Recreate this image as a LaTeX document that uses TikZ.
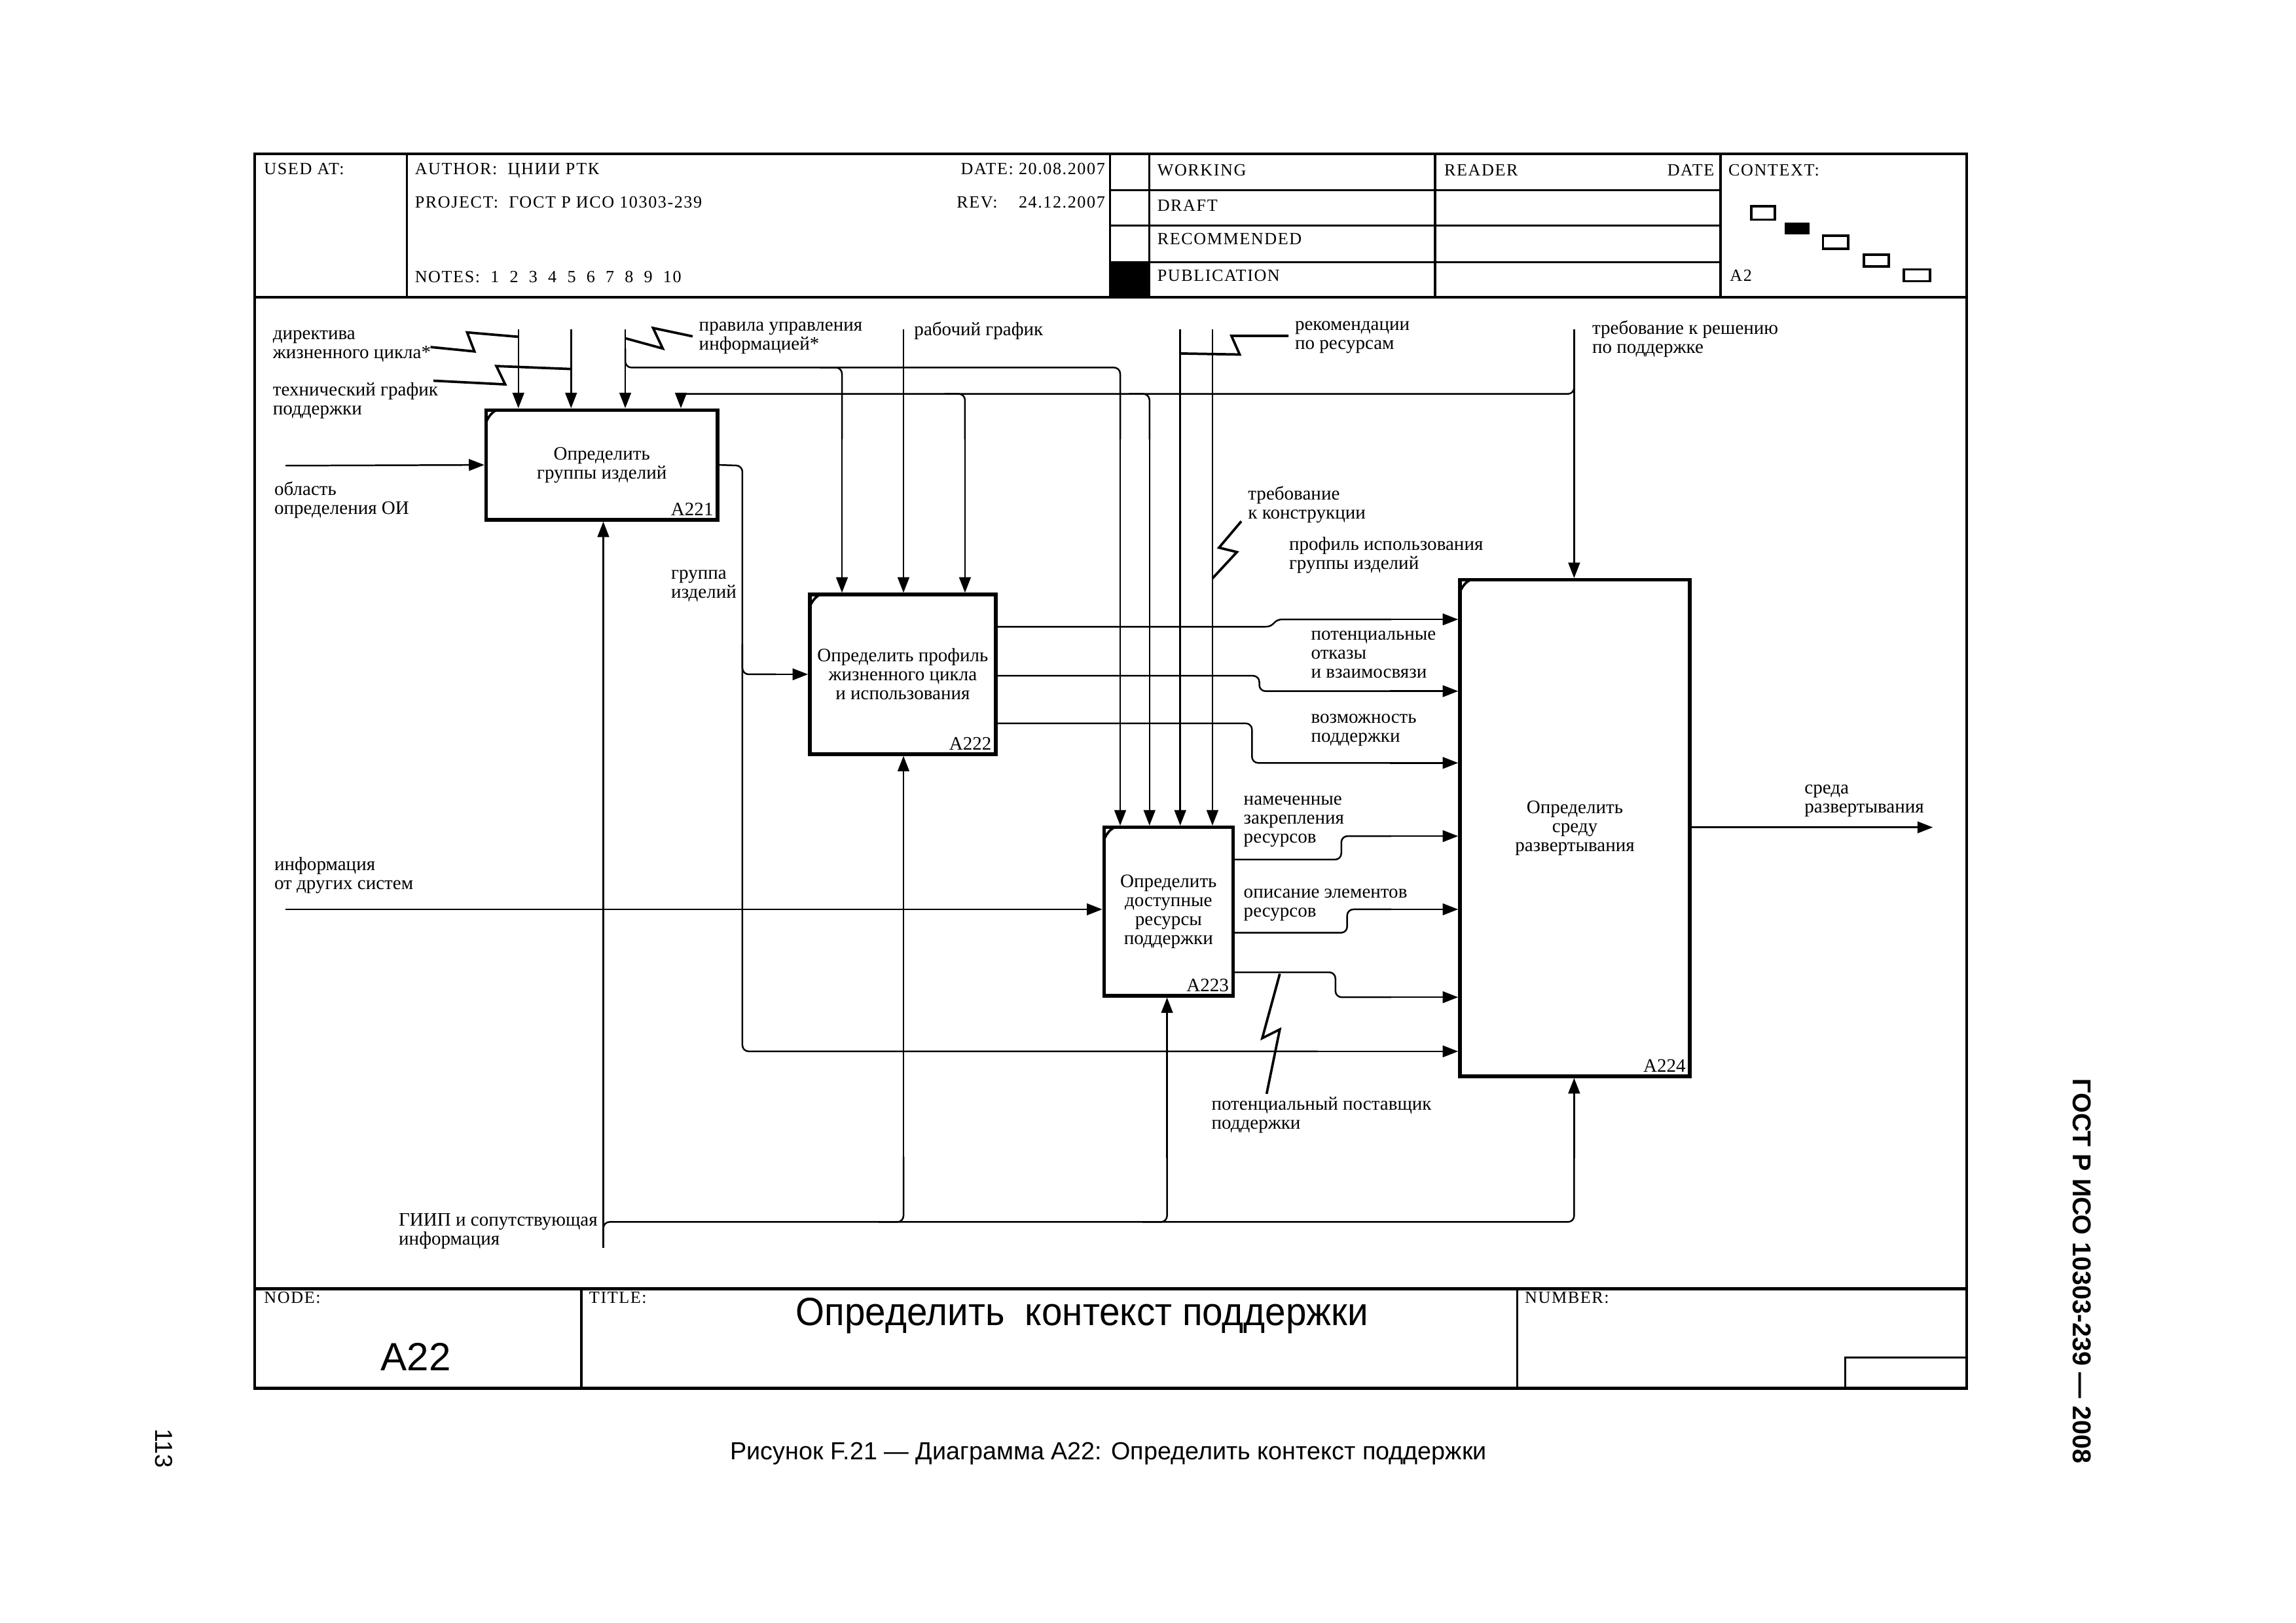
\documentclass[tikz,border=0pt]{standalone}
\usepackage{fontspec}
\setmainfont{Liberation Serif}
\newfontfamily\hdrf{Liberation Serif}[LetterSpace=6]
\newfontfamily\sansf{Liberation Sans}
\newfontfamily\titlef{Liberation Sans}[FakeStretch=0.94]
\usetikzlibrary{arrows.meta}
\begin{document}
\begin{tikzpicture}[x=0.18941mm,y=-0.18941mm,
  frame/.style={line width=1.1pt},
  grid/.style={line width=0.8pt},
  ln/.style={line width=0.6pt},
  arr/.style={line width=0.6pt,-{Triangle[length=2mm,width=1.5mm]}},
  jog/.style={rounded corners=0.8mm},
  sq/.style={line width=0.9pt,line join=miter},
  box/.style={draw,line width=1.3pt,inner sep=0pt,align=center,font=\fontsize{7}{7}\selectfont},
  lbl/.style={anchor=west,inner sep=0pt,align=left,font=\fontsize{7}{7}\selectfont},
  hd/.style={anchor=base west,inner sep=0pt,font=\hdrf\fontsize{6.3}{7}\selectfont},
  hdr/.style={anchor=base east,inner sep=0pt,font=\hdrf\fontsize{6.3}{7}\selectfont},
  num/.style={anchor=south east,inner sep=2pt,font=\fontsize{7}{7}\selectfont},
  ctx/.style={line width=0.9pt},
]
\useasboundingbox (0,0) rectangle (1568,1108);

% ---------------- frame ----------------
\draw[frame] (174,105) rectangle (1343,948);
\draw[frame] (174,203) -- (1343,203);
\draw[frame] (174,880) -- (1343,880);
\foreach \x in {278,758,785,980,1175} \draw[grid] (\x,105) -- (\x,203);
\foreach \y in {130,154,179} \draw[grid] (758,\y) -- (1175,\y);
\fill (758,179) rectangle (785,203);
\draw[grid] (397,880) -- (397,948);
\draw[grid] (1036,880) -- (1036,948);
\draw[grid] (1260,948) -- (1260,927) -- (1343,927);

% header texts
\node[hd] (h1) at (180,119) {USED AT:};
\node[hd] (h2) at (283,119) {AUTHOR:\ \ ЦНИИ РТК};
\node[hdr] (h3) at (755,119) {DATE: 20.08.2007};
\node[hd] (h4) at (283,142) {PROJECT:\ \ ГОСТ Р ИСО 10303-239};
\node[hd] (h5) at (653,142) {REV:};
\node[hdr] (h6) at (755,142) {24.12.2007};
\node[hd] (h7) at (283,193) {NOTES:\ \ 1\ \ 2\ \ 3\ \ 4\ \ 5\ \ 6\ \ 7\ \ 8\ \ 9\ \ 10};
\node[hd] (h8) at (790,120) {WORKING};
\node[hd] (h9) at (790,144) {DRAFT};
\node[hd] (h10) at (790,167) {RECOMMENDED};
\node[hd] (h11) at (790,192) {PUBLICATION};
\node[hd] (h12) at (986,120) {READER};
\node[hdr] (h13) at (1171,120) {DATE};
\node[hd] (h14) at (1180,120) {CONTEXT:};
\node[hd] (h15) at (1181,192) {A2};
\draw[ctx] (1196,141) rectangle (1212,150);
\fill (1219,152) rectangle (1236,160);
\draw[ctx] (1245,161) rectangle (1262,170);
\draw[ctx] (1273,174) rectangle (1290,182);
\draw[ctx] (1300,184) rectangle (1318,192);

% footer texts
\node[hd] (f1) at (180,890) {NODE:};
\node[hd] (f2) at (402,890) {TITLE:};
\node[hd] (f3) at (1041,890) {NUMBER:};
\node[anchor=base,inner sep=0pt,font=\sansf\fontsize{14.5}{16}\selectfont] (f4) at (284,936) {A22};
\node[anchor=base,inner sep=0pt,font=\titlef\fontsize{14.5}{16}\selectfont] (f5) at (739,905) {Определить\ \ контекст поддержки};
\node[anchor=base,inner sep=0pt,font=\sansf\fontsize{9.1}{10}\selectfont] (cap) at (757,997) {Рисунок F.21 — Диаграмма А22: Определить контекст поддержки};
\node[rotate=-90,inner sep=0pt,font=\sansf\bfseries\fontsize{9.5}{10}\selectfont] (gost) at (1422,868) {ГОСТ Р ИСО 10303-239 — 2008};
\node[rotate=-90,inner sep=0pt,font=\sansf\fontsize{9}{10}\selectfont] (page) at (112,989) {113};

% ---------------- boxes ----------------
\node[box,minimum width=29.93mm,minimum height=14.21mm] (a221) at (411,317.5) {Определить\\группы изделий};
\node[box,minimum width=24.05mm,minimum height=20.65mm] (a222) at (616.5,460.5) {Определить профиль\\жизненного цикла\\и использования};
\node[box,minimum width=16.67mm,minimum height=21.78mm] (a223) at (798,622.5) {Определить\\доступные\\ресурсы\\поддержки};
\node[box,minimum width=29.74mm,minimum height=64.21mm] (a224) at (1075.5,565.5) {Определить\\среду\\развертывания};
\node[num] (n1) at (a221.south east) {A221};
\node[num] (n2) at (a222.south east) {A222};
\node[num] (n3) at (a223.south east) {A223};
\node[num] (n4) at (a224.south east) {A224};
\foreach \b in {a221,a222,a223,a224}
  \draw[line width=0.9pt] (\b.north west) ++(1,10) .. controls +(2,-5) and +(-3,1) .. ++(8,-9);

% ---------------- free ends ----------------
\coordinate (t354) at (354,225);
\coordinate (t390) at (390,225);
\coordinate (t427) at (427,225);
\coordinate (t617) at (617,225);
\coordinate (t806) at (806,225);
\coordinate (t828) at (828,225);
\coordinate (t1075) at (1075,225);
\coordinate (inA) at (195,318);
\coordinate (inB) at (195,621);
\coordinate (outA) at (1320,565);
\coordinate (mech) at (412,852);

% ---------------- controls ----------------
\draw[arr] (t354) -- (a221.north -| t354);
\draw[arr] (t390) -- (a221.north -| t390);
\draw[arr] (t427) -- (a221.north -| t427);
\draw[arr] (t617) -- (a222.north -| t617);
\draw[arr] (t806) -- (a223.north -| t806);
\draw[arr] (t828) -- (a223.north -| t828);
\draw[arr] (t1075) -- (a224.north -| t1075);
% rules of information management branches
\draw[ln,jog] (427,238) -- (427,251) -- (765,251) -- (765,300);
\draw[arr] (765,299) -- (a223.north -| 765,0);
\draw[ln,jog] (560,251) -- (575,251) -- (575,300);
\draw[arr] (575,299) -- (a222.north -| 575,0);
% requirement to support solution branches
\draw[ln,jog] (1075,250) -- (1075,269) -- (465,269);
\draw[arr] (465,268.7) -- (a221.north -| 465,0);
\draw[ln,jog] (645,269) -- (659,269) -- (659,300);
\draw[arr] (659,299) -- (a222.north -| 659,0);
\draw[ln,jog] (771,269) -- (785,269) -- (785,300);
\draw[arr] (785,299) -- (a223.north -| 785,0);

% ---------------- inputs ----------------
\draw[arr] (inA) -- (a221.west);
\draw[arr] (inB) -- (a223.west |- inB);
\draw[ln,jog] (a221.east) -- (507,318) -- (507,718) -- (900,718);
\draw[arr] (899,718) -- (a224.west |- 0,718);
\draw[ln,jog] (507,440) -- (507,460.5) -- (530,460.5);
\draw[arr] (529,460.5) -- (a222.west);

% ---------------- A222 outputs ----------------
\draw[ln] (a222.east |- 0,428) -- (864,428) .. controls (871,428) and (869,423) .. (876,423) -- (950,423);
\draw[arr] (949,423) -- (a224.west |- 0,423);
\draw[ln,jog] (a222.east |- 0,461.5) -- (860,461.5) -- (860,472) -- (950,472);
\draw[arr] (949,472) -- (a224.west |- 0,472);
\draw[ln,jog] (a222.east |- 0,494) -- (855,494) -- (855,521) -- (950,521);
\draw[arr] (949,521) -- (a224.west |- 0,521);

% ---------------- A223 outputs ----------------
\draw[ln,jog] (a223.east |- 0,587) -- (916,587) -- (916,571) -- (950,571);
\draw[arr] (949,571) -- (a224.west |- 0,571);
\draw[ln,jog] (a223.east |- 0,637) -- (920,637) -- (920,621) -- (950,621);
\draw[arr] (949,621) -- (a224.west |- 0,621);
\draw[ln,jog] (a223.east |- 0,664) -- (912,664) -- (912,681) -- (950,681);
\draw[arr] (949,681) -- (a224.west |- 0,681);

% ---------------- output ----------------
\draw[arr] (a224.east |- outA) -- (outA);

% ---------------- mechanisms ----------------
\draw[arr] (mech) -- (a221.south -| mech);
\draw[ln,jog] (412,846) -- (412,834.5) -- (1075,834.5) -- (1075,790);
\draw[arr] (1075,791) -- (a224.south -| 1075,0);
\draw[ln,jog] (600,834.5) -- (617,834.5) -- (617,790);
\draw[arr] (617,791) -- (a222.south -| 617,0);
\draw[ln,jog] (780,834.5) -- (797,834.5) -- (797,790);
\draw[arr] (797,791) -- (a223.south -| 797,0);

% ---------------- squiggles ----------------
\draw[sq] (294,237) -- (324,240) -- (319,227) -- (354,230);
\draw[sq] (296,260) -- (345,262.5) -- (339,250) -- (390,252);
\draw[sq] (427,231) -- (452.6,238) -- (446,224) -- (473,229.7);
\draw[sq] (806,241.4) -- (846.6,242.1) -- (841,229.4) -- (880,229.4);
\draw[sq] (847.7,356) -- (832.5,374) -- (844.7,377) -- (828,395);
\draw[sq] (874,665) -- (862,709) -- (874,703) -- (865,747);

% ---------------- labels ----------------
\node[lbl] (l1) at (186,236.5) {директива\\жизненного цикла*};
\node[lbl] (l2) at (186,273.5) {технический график\\поддержки};
\node[lbl] (l3) at (187,341.5) {область\\определения ОИ};
\node[lbl] (l4) at (477,231) {правила управления\\информацией*};
\node[lbl] (l5) at (624,226) {рабочий график};
\node[lbl] (l6) at (884,230.5) {рекомендации\\по ресурсам};
\node[lbl] (l7) at (1087,231.5) {требование к решению\\по поддержке};
\node[lbl] (l8) at (852,344.5) {требование\\к конструкции};
\node[lbl] (l9) at (880,379) {профиль использования\\группы изделий};
\node[lbl] (l10) at (458,400) {группа\\изделий};
\node[lbl] (l11) at (895,447) {потенциальные\\отказы\\и взаимосвязи};
\node[lbl] (l12) at (895,498.5) {возможность\\поддержки};
\node[lbl] (l13) at (849,561) {намеченные\\закрепления\\ресурсов};
\node[lbl] (l14) at (849,618) {описание элементов\\ресурсов};
\node[lbl] (l15) at (187,598) {информация\\от других систем};
\node[lbl] (l16) at (1232,547) {среда\\развертывания};
\node[lbl] (l17) at (827,761.5) {потенциальный поставщик\\поддержки};
\node[lbl] (l18) at (272,841) {ГИИП и сопутствующая\\информация};
\end{tikzpicture}
\end{document}
